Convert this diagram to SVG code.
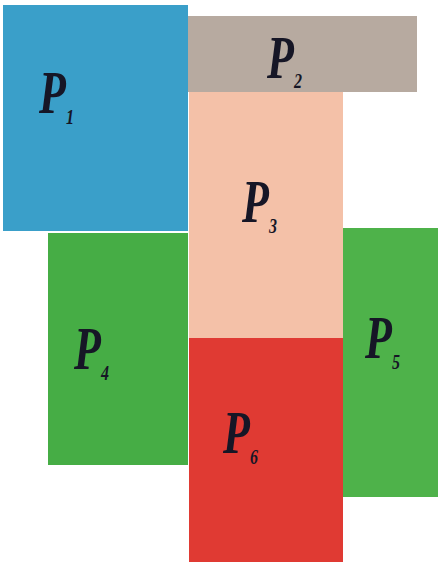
<svg xmlns="http://www.w3.org/2000/svg" width="438" height="562" viewBox="0 0 438 562">
<style>
.lbl{font-family:"Liberation Serif","Times New Roman",serif;font-style:italic;font-weight:bold;font-size:44px;fill:#161626}
.sub{font-size:16px}
</style>
<rect width="438" height="562" fill="#ffffff"/>
<g id="P2"><rect x="187" y="16" width="230" height="76" fill="#b7aaa0"/>
<text class="lbl" transform="translate(267,78) scale(1,1.37)">P<tspan class="sub" dy="7">2</tspan></text></g>
<g id="P1"><rect x="3" y="5" width="185" height="226" fill="#3a9fc9"/>
<text class="lbl" transform="translate(39,113) scale(1,1.37)">P<tspan class="sub" dy="8">1</tspan></text></g>
<g id="P3"><rect x="189" y="92" width="154" height="247" fill="#f4c1a8"/>
<text class="lbl" transform="translate(242,222) scale(1,1.37)">P<tspan class="sub" dy="8">3</tspan></text></g>
<g id="P4"><rect x="48" y="233" width="140" height="232" fill="#46ad45"/>
<text class="lbl" transform="translate(74,369) scale(1,1.37)">P<tspan class="sub" dy="8">4</tspan></text></g>
<g id="P5"><rect x="343" y="228" width="95" height="269" fill="#4eb24a"/>
<text class="lbl" transform="translate(365,358) scale(1,1.37)">P<tspan class="sub" dy="8">5</tspan></text></g>
<g id="P6"><rect x="189" y="338" width="154" height="224" fill="#e03a33"/>
<text class="lbl" transform="translate(223,453) scale(1,1.37)">P<tspan class="sub" dy="8">6</tspan></text></g>
<g id="connectors"></g>
</svg>
